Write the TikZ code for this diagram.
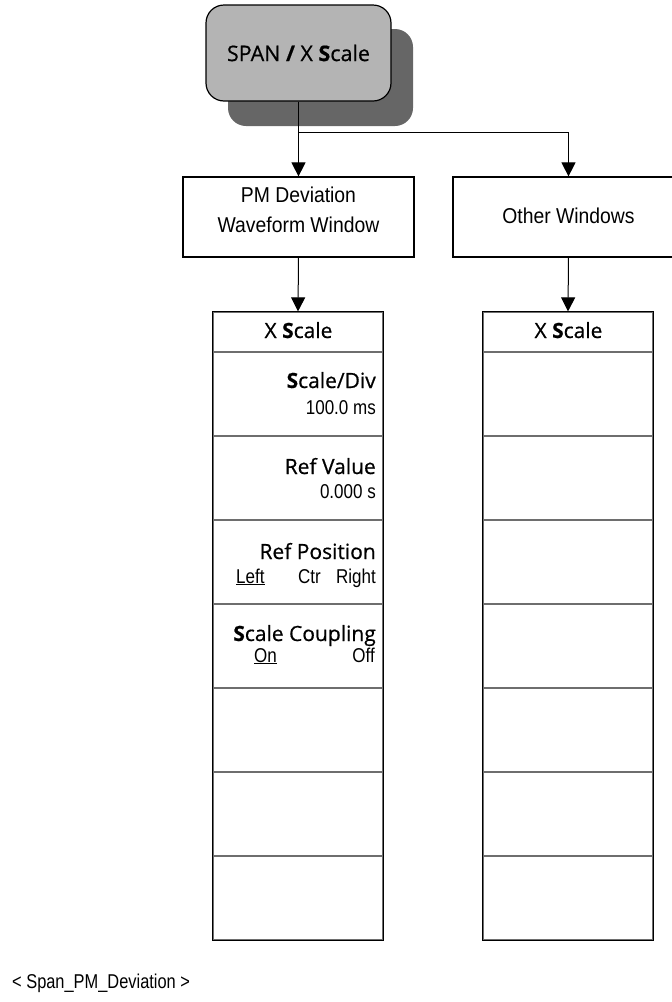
\documentclass[tikz,border=0pt]{standalone}
\usepackage{fontspec}
\setmainfont{Liberation Sans}
\newfontfamily\lightf[FakeStretch=0.9]{Liberation Sans}
\newfontfamily\valf[FakeStretch=0.85]{Liberation Sans}
\newfontfamily\labf[FakeBold=0.6]{Open Sans}
\newfontfamily\footf[FakeStretch=0.82]{Liberation Sans}
\usetikzlibrary{arrows.meta}
\definecolor{topfill}{RGB}{180,180,180}
\definecolor{shadowfill}{RGB}{102,102,102}
\definecolor{sepgray}{RGB}{110,110,110}
\newcommand\hotkey[1]{{\bfseries #1}}
\begin{document}
\begin{tikzpicture}[x=1pt,y=-1pt,
  arr/.style={-{Triangle[width=14pt,length=14pt]}, line width=1pt},
  wbox/.style={draw=black, line width=1.2pt, fill=white, inner sep=0pt, minimum width=231pt, minimum height=80pt},
  titlecell/.style={draw=sepgray, line width=1.2pt, minimum width=170pt, minimum height=40pt, inner sep=0pt},
  cell/.style={draw=sepgray, line width=1.2pt, minimum width=170pt, minimum height=84pt, inner sep=0pt},
  outline/.style={draw=black, line width=1.2pt},
  lab/.style={font=\labf\fontsize{21}{24}\selectfont, inner sep=0pt},
  light/.style={font=\lightf\fontsize{21.5}{25}\selectfont, inner sep=0pt},
  val/.style={font=\valf\fontsize{20}{23}\selectfont, inner sep=0pt}]
\useasboundingbox (0,0) rectangle (672,1002);
\clip (0,0) rectangle (672,1002);

% top rounded box with shadow
\fill[shadowfill, rounded corners=18pt] (228,29) rectangle (413,126);
\node[draw=black, line width=1.2pt, fill=topfill, rounded corners=18pt,
      minimum width=185pt, minimum height=96pt, inner sep=0pt,
      font=\labf\fontsize{21.5}{25}\selectfont] (top) at (298.5,53)
      {SPAN \hotkey{/} X \hotkey{S}cale};

% window boxes
\node[wbox] (pm) at (298.5,217) {};
\node[light, anchor=base] (pm1) at (298.5,202) {PM Deviation};
\node[light, anchor=base] (pm2) at (298.5,232) {Waveform Window};
\node[wbox] (other) at (568.5,217) {};
\node[light, anchor=base] (othertxt) at (568.5,223) {Other Windows};

% connectors
\coordinate (br) at (298.5,132);
\draw[arr] (top.south) -- (pm.north);
\draw[arr] (br) -| (other.north);

% left menu
\node[titlecell] (L0) at (298,332) {};
\foreach \i in {1,...,7} {
  \node[cell] (L\i) at (298,{352+84*\i-42}) {};
}
\draw[outline] (L0.north west) rectangle (L7.south east);
\node[lab, anchor=base] (Lt) at (298.5,338) {X \hotkey{S}cale};

% right menu
\node[titlecell] (R0) at (568,332) {};
\foreach \i in {1,...,7} {
  \node[cell] (R\i) at (568,{352+84*\i-42}) {};
}
\draw[outline] (R0.north west) rectangle (R7.south east);
\node[lab, anchor=base] (Rt) at (568.5,338) {X \hotkey{S}cale};

\draw[arr] (pm.south) -- (L0.north);
\draw[arr] (other.south) -- (R0.north);

% softkey labels
\node[lab, anchor=base east] (k1) at (376,388) {\hotkey{S}cale/Div};
\node[val, anchor=base east] (v1) at (376,414) {100.0 ms};
\node[lab, anchor=base east] (k2) at (376,474) {Ref Value};
\node[val, anchor=base east] (v2) at (376,498) {0.000 s};
\node[lab, anchor=base east] (k3) at (376,559) {Ref Position};
\node[val, anchor=base west] (v3a) at (236,583) {\underline{Left}};
\node[val, anchor=base west] (v3b) at (298,583) {Ctr};
\node[val, anchor=base east] (v3c) at (376,583) {Right};
\node[lab, anchor=base east] (k4) at (376,641) {\hotkey{S}cale Coupling};
\node[val, anchor=base west] (v4a) at (254,662) {\underline{On}};
\node[val, anchor=base east] (v4b) at (375,662) {Off};

% footer
\node[anchor=base west, inner sep=0pt, font=\footf\fontsize{20}{24}\selectfont] (foot) at (12,988) {< Span\_PM\_Deviation >};
\end{tikzpicture}
\end{document}
